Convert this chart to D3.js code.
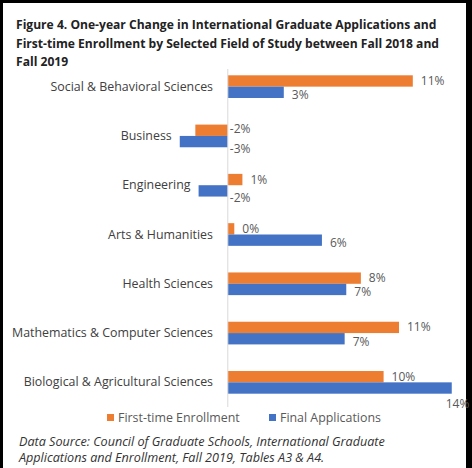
<!DOCTYPE html>
<html>
<head>
<meta charset="utf-8">
<script src="https://cdn.jsdelivr.net/npm/d3@7"></script>
<style>
  body { margin: 0; background: #000; }
  svg { display: block; }
</style>
</head>
<body>
<div id="grafico"></div>
<script>
// Datos (en %)
const campos = [
  "Social & Behavioral Sciences",
  "Business",
  "Engineering",
  "Arts & Humanities",
  "Health Sciences",
  "Mathematics & Computer Sciences",
  "Biological & Agricultural Sciences",
];
const series = ["First-time Enrollment", "Final Applications"];
const inscripcion = [11.4, -2.0, 0.9, 0.4, 8.2, 10.55, 9.6];
const solicitudes = [3.45, -2.96, -1.8, 5.8, 7.3, 7.2, 13.8];
const titulo = [
  "Figure 4. One-year Change in International Graduate Applications and",
  "First-time Enrollment by Selected Field of Study between Fall 2018 and",
  "Fall 2019",
];
const fuente = [
  "Data Source: Council of Graduate Schools, International Graduate",
  "Applications and Enrollment, Fall 2019, Tables A3 & A4.",
];

const width = 472;
const height = 468;
const font = "Open Sans, sans-serif";

const data = campos.map((c, i) => ({
  campo: c,
  valores: [
    { serie: series[0], v: inscripcion[i] },
    { serie: series[1], v: solicitudes[i] },
  ],
}));

const svg = d3
  .select("#grafico")
  .append("svg")
  .attr("width", width)
  .attr("height", height);

// Marco blanco sobre fondo negro
svg.append("rect")
  .attr("x", 3).attr("y", 3)
  .attr("width", 463).attr("height", height - 3)
  .attr("fill", "#fff");

const x = d3.scaleLinear().domain([-3.5, 14]).range([171, 455]);

const y0 = d3
  .scaleBand()
  .domain(campos)
  .range([62, 407])
  .paddingInner(0.54)
  .paddingOuter(0.27);

const y1 = d3.scaleBand().domain(series).range([0, y0.bandwidth()]);

const color = d3.scaleOrdinal().domain(series).range(["#ed7d31", "#4472c4"]);

// Título
svg.append("g")
  .selectAll("text")
  .data(titulo)
  .join("text")
  .attr("x", 16)
  .attr("y", (d, i) => 29 + i * 18.5)
  .attr("font-family", font)
  .attr("font-size", "12.1px")
  .attr("font-weight", "bold")
  .attr("fill", "#222")
  .text((d) => d);

// Barras
const grupos = svg
  .append("g")
  .selectAll("g")
  .data(data)
  .join("g")
  .attr("transform", (d) => `translate(0,${y0(d.campo)})`);

grupos
  .selectAll("rect")
  .data((d) => d.valores)
  .join("rect")
  .attr("x", (d) => x(Math.min(0, d.v)))
  .attr("y", (d) => y1(d.serie))
  .attr("width", (d) => Math.abs(x(d.v) - x(0)))
  .attr("height", y1.bandwidth())
  .attr("fill", (d) => color(d.serie));

// Etiquetas de valor
grupos
  .selectAll("text")
  .data((d) => d.valores)
  .join("text")
  .attr("x", (d) => {
    if (d.v < 0) return x(0) + 2;
    if (x(d.v) + 30 > width - 6) return x(d.v) - 6;
    return x(d.v) + 8;
  })
  .attr("y", (d) => {
    let base = y1(d.serie) + y1.bandwidth() / 2 + 4;
    if (d.v > 0 && x(d.v) + 30 > width - 6) return base + 16;
    if (d.serie === series[1]) base += 3;
    if (d.v < 0) base += d.serie === series[0] ? -1 : 4;
    return base;
  })
  .attr("font-family", font)
  .attr("font-size", "12px")
  .attr("fill", "#595959")
  .text((d) => Math.round(d.v) + "%");

// Eje vertical en cero
svg.append("line")
  .attr("x1", x(0)).attr("x2", x(0))
  .attr("y1", 69).attr("y2", 407)
  .attr("stroke", "#d9d9d9")
  .attr("stroke-width", 1);

// Categorías (a la izquierda de la barra más baja)
svg.append("g")
  .selectAll("text")
  .data(data)
  .join("text")
  .attr("x", (d) => Math.min(213, x(d3.min(d.valores, (v) => v.v)) - 8))
  .attr("y", (d) => y0(d.campo) + y0.bandwidth() / 2 + 4)
  .attr("text-anchor", "end")
  .attr("font-family", font)
  .attr("font-size", "12.4px")
  .attr("fill", "#404040")
  .text((d) => d.campo);

// Leyenda
const leyenda = svg.append("g").attr("transform", "translate(107,418)");
const posX = [0, 162];
series.forEach((s, i) => {
  const g = leyenda.append("g").attr("transform", `translate(${posX[i]},0)`);
  g.append("rect")
    .attr("x", 0).attr("y", -4)
    .attr("width", 7).attr("height", 7)
    .attr("fill", color(s));
  g.append("text")
    .attr("x", 11)
    .attr("y", 4)
    .attr("font-family", font)
    .attr("font-size", "12.4px")
    .attr("fill", "#595959")
    .text(s);
});

// Fuente
svg.append("g")
  .selectAll("text")
  .data(fuente)
  .join("text")
  .attr("x", 19)
  .attr("y", (d, i) => 446 + i * 16)
  .attr("font-family", font)
  .attr("font-size", "12.6px")
  .attr("font-style", "italic")
  .attr("fill", "#333")
  .text((d) => d);
</script>
</body>
</html>
